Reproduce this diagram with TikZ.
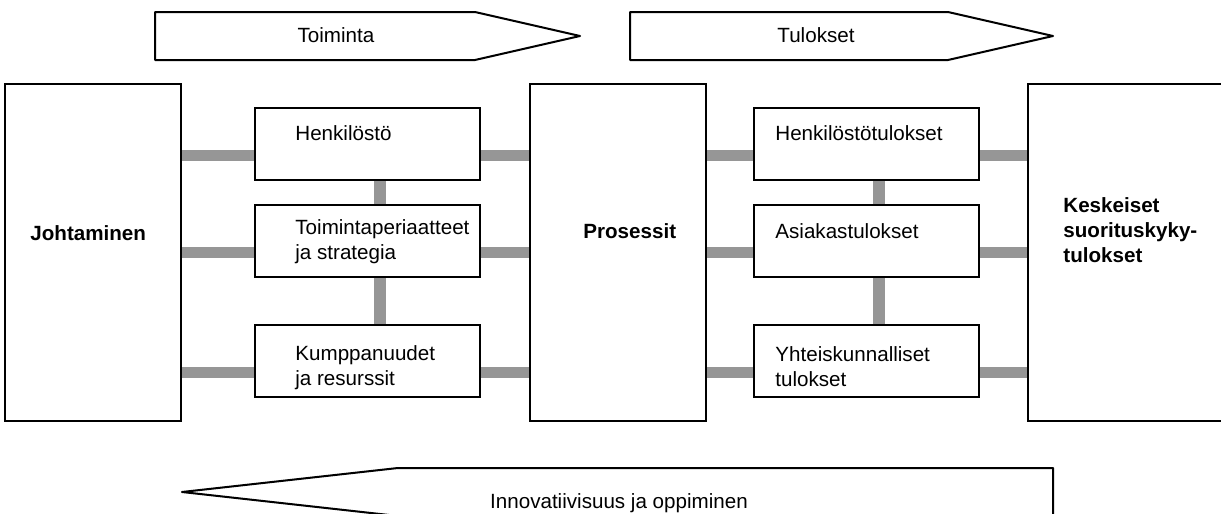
\documentclass[tikz,border=0pt]{standalone}
\usepackage{fontspec}
\setmainfont{Liberation Sans}
\definecolor{bargray}{RGB}{150,150,150}
\tikzset{
	bigbox/.style={draw, line width=1pt, minimum width=88pt, minimum height=168.5pt, inner sep=0pt},
	colbox/.style={draw, line width=1pt, minimum width=112.5pt, minimum height=36pt, inner sep=0pt},
	bar/.style={draw=bargray, line width=5.75pt},
	arrowline/.style={draw, line width=1pt, line join=round},
	txt/.style={anchor=base west, inner sep=0pt, align=left, font=\fontsize{10.3}{12.4}\selectfont},
	btxt/.style={txt, font=\fontsize{10.3}{12.3}\selectfont\bfseries}
}
\begin{document}
\begin{tikzpicture}[x=0.5pt, y=-0.5pt]
	\useasboundingbox (0,0) rectangle (1221,514);
	\clip (0,0) rectangle (1221,514);

	\draw[arrowline] (155,12) -- (475,12) -- (580,36) -- (475,60) -- (155,60) -- cycle;
	\node[txt, anchor=base] (toiminta) at (336,42) {Toiminta};
	\draw[arrowline] (630,12) -- (948,12) -- (1053,36) -- (948,60) -- (630,60) -- cycle;
	\node[txt, anchor=base] (tulokset) at (816,42) {Tulokset};

	\node[bigbox] (johto) at (93,252.5) {};
	\node[bigbox] (pros) at (617.5,252.5) {};
	\node[bigbox, minimum width=100pt] (kesk) at (1128,252.5) {};
	\node[btxt] (johtoT) at (30,240) {Johtaminen};
	\node[btxt] (prosT) at (583,238) {Prosessit};
	\node[btxt] (keskT) at (1063,262) {Keskeiset\\suorituskyky-\\tulokset};

	\node[colbox] (hen) at (367.5,144) {};
	\node[colbox] (toim) at (367.5,241) {};
	\node[colbox] (kump) at (367.5,361) {};
	\node[txt] (henT) at (295,140) {Henkilöstö};
	\node[txt] (toimT) at (295,259) {Toimintaperiaatteet\\ja strategia};
	\node[txt] (kumpT) at (295,385) {Kumppanuudet\\ja resurssit};

	\node[colbox] (hentul) at (866.5,144) {};
	\node[colbox] (asiak) at (866.5,241) {};
	\node[colbox] (yht) at (866.5,361) {};
	\node[txt] (hentulT) at (775,140) {Henkilöstötulokset};
	\node[txt] (asiakT) at (775,238) {Asiakastulokset};
	\node[txt] (yhtT) at (775,386) {Yhteiskunnalliset\\tulokset};

	\foreach \a in {hen,toim,kump}{
		\draw[bar] ([yshift=-5.75pt]\a.west) -- ([yshift=-5.75pt]johto.east |- \a.west);
		\draw[bar] ([yshift=-5.75pt]\a.east) -- ([yshift=-5.75pt]pros.west |- \a.west);
	}
	\foreach \a in {hentul,asiak,yht}{
		\draw[bar] ([yshift=-5.75pt]\a.west) -- ([yshift=-5.75pt]pros.east |- \a.west);
		\draw[bar] ([yshift=-5.75pt]\a.east) -- ([yshift=-5.75pt]kesk.west |- \a.west);
	}
	\draw[bar] ([xshift=6.25pt]hen.south) -- ([xshift=6.25pt]toim.north);
	\draw[bar] ([xshift=6.25pt]toim.south) -- ([xshift=6.25pt]kump.north);
	\draw[bar] ([xshift=6.25pt]hentul.south) -- ([xshift=6.25pt]asiak.north);
	\draw[bar] ([xshift=6.25pt]asiak.south) -- ([xshift=6.25pt]yht.north);

	\draw[arrowline] (1053,468) -- (398,468) -- (182,492) -- (398,516) -- (1053,516) -- cycle;
	\node[txt, anchor=base] (inno) at (619,508) {Innovatiivisuus ja oppiminen};
\end{tikzpicture}
\end{document}
